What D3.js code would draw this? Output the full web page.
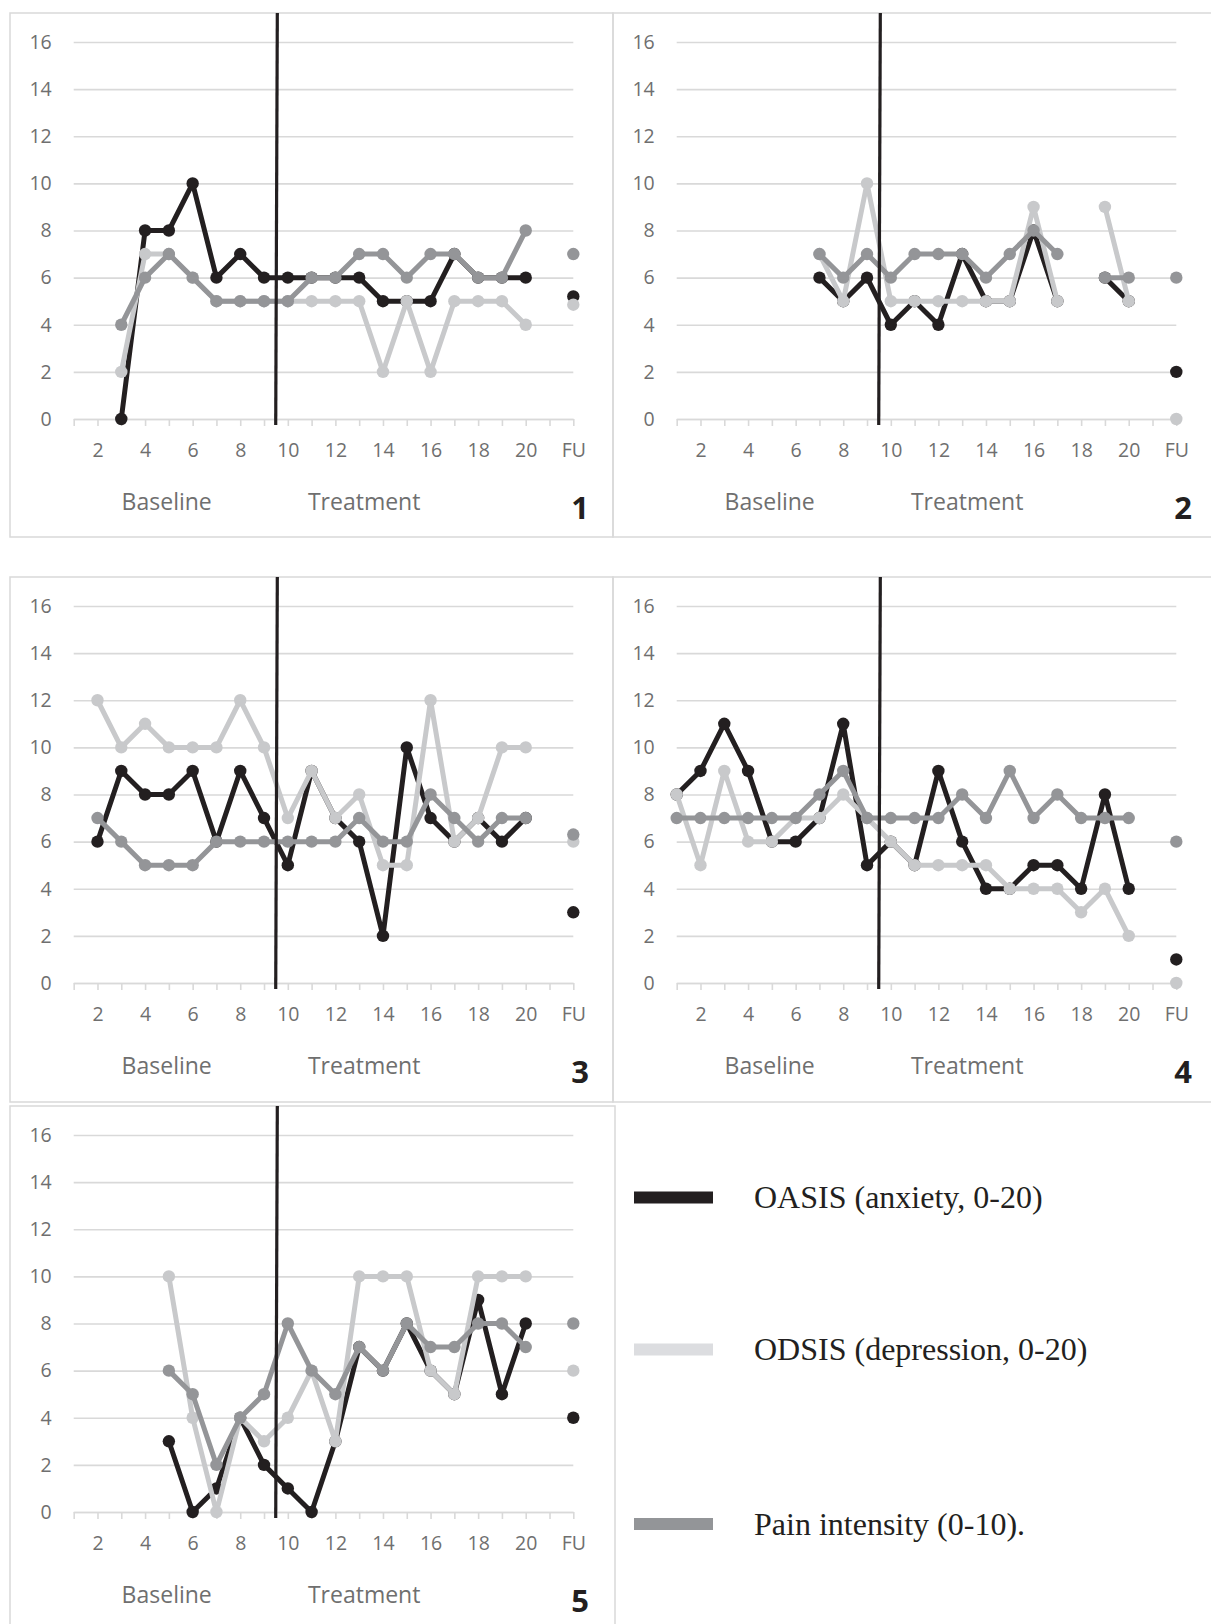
<!DOCTYPE html>
<html>
<head>
<meta charset="utf-8">
<script src="https://cdn.jsdelivr.net/npm/d3@7"></script>
<style>
    body { margin: 0; background: white; }
    svg { display: block; }
</style>
</head>
<body>
<svg class="svgMain" width="1211" height="1624"></svg>
<script>
// Five single-case panels (OASIS, ODSIS, pain) plus a legend box.

// ---- Data ----
var xLabels = ["", "2", "", "4", "", "6", "", "8", "", "10", "", "12", "", "14", "", "16", "", "18", "", "20", "", "FU"];
var yTicks = [0, 2, 4, 6, 8, 10, 12, 14, 16];
var phaseLabels = ["Baseline", "Treatment"];

// sessions 1-20, null = not measured
var oasis1 = [null, null, 0, 8, 8, 10, 6, 7, 6, 6, 6, 6, 6, 5, 5, 5, 7, 6, 6, 6];
var odsis1 = [null, null, 2, 7, 7, 6, 5, 5, 5, 5, 5, 5, 5, 2, 5, 2, 5, 5, 5, 4];
var pain1  = [null, null, 4, 6, 7, 6, 5, 5, 5, 5, 6, 6, 7, 7, 6, 7, 7, 6, 6, 8];

var oasis2 = [null, null, null, null, null, null, 6, 5, 6, 4, 5, 4, 7, 5, 5, 8, 5, null, 6, 5];
var odsis2 = [null, null, null, null, null, null, 7, 5, 10, 5, 5, 5, 5, 5, 5, 9, 5, null, 9, 5];
var pain2  = [null, null, null, null, null, null, 7, 6, 7, 6, 7, 7, 7, 6, 7, 8, 7, null, 6, 6];

var oasis3 = [null, 6, 9, 8, 8, 9, 6, 9, 7, 5, 9, 7, 6, 2, 10, 7, 6, 7, 6, 7];
var odsis3 = [null, 12, 10, 11, 10, 10, 10, 12, 10, 7, 9, 7, 8, 5, 5, 12, 6, 7, 10, 10];
var pain3  = [null, 7, 6, 5, 5, 5, 6, 6, 6, 6, 6, 6, 7, 6, 6, 8, 7, 6, 7, 7];

var oasis4 = [8, 9, 11, 9, 6, 6, 7, 11, 5, 6, 5, 9, 6, 4, 4, 5, 5, 4, 8, 4];
var odsis4 = [8, 5, 9, 6, 6, 7, 7, 8, 7, 6, 5, 5, 5, 5, 4, 4, 4, 3, 4, 2];
var pain4  = [7, 7, 7, 7, 7, 7, 8, 9, 7, 7, 7, 7, 8, 7, 9, 7, 8, 7, 7, 7];

var oasis5 = [null, null, null, null, 3, 0, 1, 4, 2, 1, 0, 3, 7, 6, 8, 6, 5, 9, 5, 8];
var odsis5 = [null, null, null, null, 10, 4, 0, 4, 3, 4, 6, 3, 10, 10, 10, 6, 5, 10, 10, 10];
var pain5  = [null, null, null, null, 6, 5, 2, 4, 5, 8, 6, 5, 7, 6, 8, 7, 7, 8, 8, 7];

// follow-up values, one per panel
var fuOasis = [5.2, 2, 3, 1, 4];
var fuOdsis = [4.85, 0, 6, 0, 6];
var fuPain  = [7, 6, 6.3, 6, 8];

var seriesNames = ["OASIS (anxiety, 0-20)", "ODSIS (depression, 0-20)", "Pain intensity (0-10)."];
var seriesColors = ["#231f20", "#c8c9cb", "#949598"];
var legendColors = ["#231f20", "#dcdde0", "#939598"];

// ---- Layout ----
var PLOT_X = 63.7;      // first category, from panel left
var PLOT_W = 499.6;     // first to last category
var PLOT_TOP = 29;      // y of 16
var PLOT_BOT = 406;     // y of 0
var PHASE_AT = 9.5;     // session where treatment starts
var TEXT_GRAY = "#6f6f6f";
var GRID = "#d9d9d9";

var panels = [
    { num: "1", L: 10,  T: 13,   W: 603, H: 524, data: [oasis1, odsis1, pain1] },
    { num: "2", L: 613, T: 13,   W: 610, H: 524, data: [oasis2, odsis2, pain2] },
    { num: "3", L: 10,  T: 577,  W: 603, H: 525, data: [oasis3, odsis3, pain3] },
    { num: "4", L: 613, T: 577,  W: 610, H: 525, data: [oasis4, odsis4, pain4] },
    { num: "5", L: 10,  T: 1106, W: 605, H: 530, data: [oasis5, odsis5, pain5] }
];

var svgMain = d3.select(".svgMain");

function drawPanel (p, pi) {
    // Frame
    svgMain.append("rect")
        .attr("x", p.L).attr("y", p.T)
        .attr("width", p.W).attr("height", p.H)
        .attr("fill", "none").attr("stroke", GRID).attr("stroke-width", 1.5);

    var g = svgMain.append("g").attr("transform", "translate(" + (p.L + PLOT_X) + "," + p.T + ")");

    var x = d3.scalePoint().domain(d3.range(xLabels.length)).range([0, PLOT_W]);
    var y = d3.scaleLinear().domain([0, 16]).range([PLOT_BOT, PLOT_TOP]);

    // Gridlines + y labels
    var yAxis = g.append("g")
        .call(d3.axisLeft(y).tickValues(yTicks).tickSize(-PLOT_W).tickPadding(22));
    yAxis.select(".domain").remove();
    yAxis.selectAll("line").attr("stroke", GRID).attr("stroke-width", 1.6);
    yAxis.selectAll("text")
        .attr("fill", TEXT_GRAY).style("font-family", "'Open Sans'").style("font-size", "19.5px");

    // Category axis
    var xAxis = g.append("g")
        .attr("transform", "translate(0," + PLOT_BOT + ")")
        .call(d3.axisBottom(x).tickSize(7).tickSizeOuter(0).tickPadding(17)
            .tickFormat(function (i) { return xLabels[i]; }));
    xAxis.select(".domain").attr("stroke", GRID).attr("stroke-width", 1.6);
    xAxis.selectAll("line").attr("stroke", GRID).attr("stroke-width", 1.6);
    xAxis.selectAll("text")
        .attr("fill", TEXT_GRAY).style("font-family", "'Open Sans'").style("font-size", "19.5px");

    // Series (session index 0..19)
    var line = d3.line()
        .defined(function (d) { return d != null; })
        .x(function (d, i) { return x(i); })
        .y(function (d) { return y(d); });

    var fu = [fuOasis[pi], fuOdsis[pi], fuPain[pi]];
    var fuIndex = xLabels.length - 1;

    p.data.forEach(function (vals, s) {
        g.append("path")
            .datum(vals)
            .attr("d", line)
            .attr("fill", "none")
            .attr("stroke", seriesColors[s])
            .attr("stroke-width", 5)
            .attr("stroke-linejoin", "round");
        g.selectAll(".dot" + s)
            .data(vals.map(function (v, i) { return { v: v, i: i }; }).filter(function (d) { return d.v != null; }))
            .enter().append("circle")
            .attr("cx", function (d) { return x(d.i); })
            .attr("cy", function (d) { return y(d.v); })
            .attr("r", 6.2)
            .attr("fill", seriesColors[s]);
        g.append("circle")
            .attr("cx", x(fuIndex)).attr("cy", y(fu[s]))
            .attr("r", 6.2)
            .attr("fill", seriesColors[s]);
    });

    // Phase change line (a touch slanted, as in the original)
    var xp = (x(PHASE_AT - 0.5 - 1) + x(PHASE_AT + 0.5 - 1)) / 2;
    g.append("line")
        .attr("x1", xp + 1.4).attr("y1", 0)
        .attr("x2", xp - 0.2).attr("y2", PLOT_BOT + 6)
        .attr("stroke", "#231f20").attr("stroke-width", 3.2);

    // Phase labels
    var phaseX = [93, 290.5];
    phaseLabels.forEach(function (t, k) {
        g.append("text")
            .attr("x", phaseX[k]).attr("y", 489).attr("dy", "0.35em")
            .attr("text-anchor", "middle")
            .attr("fill", TEXT_GRAY)
            .style("font-family", "'Open Sans'").style("font-size", "23px")
            .text(t);
    });

    // Panel number
    svgMain.append("text")
        .attr("x", p.L + 570).attr("y", p.T + 495).attr("dy", "0.36em")
        .attr("text-anchor", "middle")
        .attr("fill", "#231f20")
        .style("font-family", "'Open Sans'").style("font-size", "31px").style("font-weight", "700")
        .text(p.num);
}

function drawLegend () {
    var rowY = [1197.5, 1349.5, 1524];
    seriesNames.forEach(function (name, s) {
        svgMain.append("rect")
            .attr("x", 634).attr("y", rowY[s] - 6)
            .attr("width", 79).attr("height", 12)
            .attr("fill", legendColors[s]);
        svgMain.append("text")
            .attr("x", 754).attr("y", rowY[s]).attr("dy", "0.33em")
            .attr("fill", "#231f20")
            .style("font-family", "'Liberation Serif'").style("font-size", "32px")
            .text(name);
    });
}

panels.forEach(drawPanel);
drawLegend();
</script>
</body>
</html>
